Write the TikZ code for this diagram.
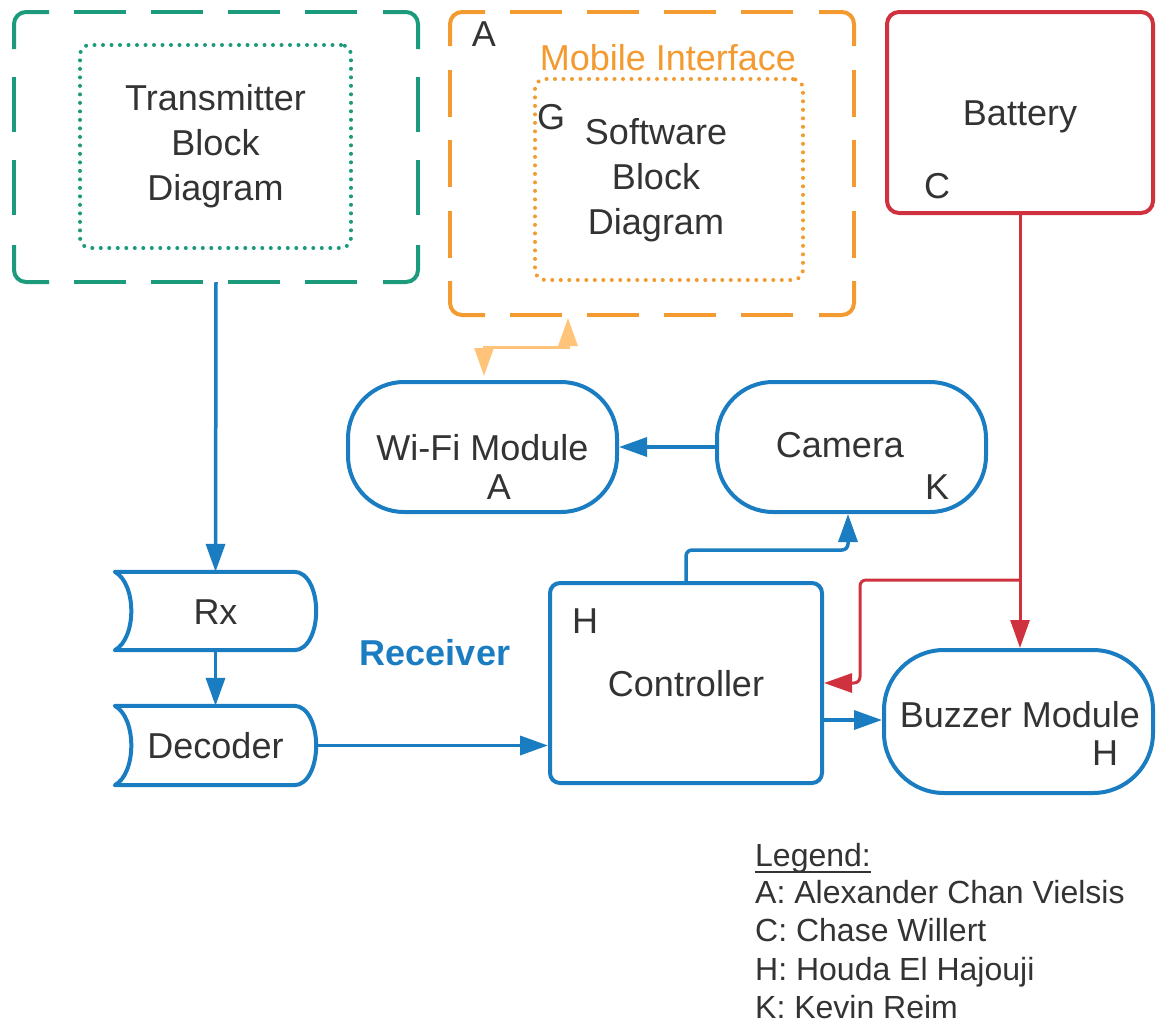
\documentclass[tikz,border=0pt]{standalone}
\usepackage{fontspec}
\setmainfont{Liberation Sans}
\usetikzlibrary{arrows.meta}
\usetikzlibrary{positioning}
\usetikzlibrary{calc}
\definecolor{rblue}{HTML}{1A7CC1}
\definecolor{tgreen}{HTML}{1C9A7C}
\definecolor{morange}{HTML}{F39A30}
\definecolor{lorange}{HTML}{FFC47A}
\definecolor{bred}{HTML}{CF323E}
\definecolor{ink}{HTML}{333333}
\tikzset{>={Triangle[length=28pt,width=19pt]}}
\tikzset{
  every node/.style={font=\fontsize{36}{45}\selectfont, text=ink, inner sep=0pt},
  word/.style={text height=26pt, text depth=0pt},
  legendline/.style={font=\fontsize{32}{39}\selectfont, anchor=base west, text depth=0pt},
  outerbox/.style={outer sep=0pt},
  innerbox/.style={draw, line width=4pt, line cap=round, dash pattern=on 0pt off 8.5pt, rounded corners=10pt, align=center},
  module/.style={draw=rblue, line width=4pt, rounded corners=56pt, word},
  blocknode/.style={draw=rblue, line width=4pt, rounded corners=10pt, word},
  link/.style={->, rblue, line width=3.5pt},
  feed/.style={->, bred, line width=3pt},
}
% node, colour, side corner piece, side dash, side gap
\newcommand{\dashframe}[5]{%
  \foreach \cn/\h/\v in {north west/1/-1,north east/-1/-1,south east/-1/1,south west/1/1}
    \draw[#2, line width=4pt, rounded corners=12pt] ([xshift=\h*35pt]#1.\cn) -- (#1.\cn) -- ([yshift=\v*#3]#1.\cn);
  \foreach \p/\q in {north west/north east,south west/south east}
    \draw[#2, line width=4pt, dash pattern=on 52pt off 25pt] ($(#1.\p)!60pt!(#1.\q)$) -- ($(#1.\q)!60pt!(#1.\p)$);
  \foreach \p/\q in {north west/south west,north east/south east}
    \draw[#2, line width=4pt, dash pattern=on #4 off #5] ($(#1.\p)!#3+#5!(#1.\q)$) -- ($(#1.\q)!#3+#5!(#1.\p)$);
}

\begin{document}
\begin{tikzpicture}[x=1pt,y=-1pt]
  \useasboundingbox (0,0) rectangle (1157,1026);

  % transmitter
  \node[outerbox, minimum width=404pt, minimum height=270pt] (tx) at (216,147) {};
  \dashframe{tx}{tgreen}{37pt}{55pt}{28pt}
  \node[innerbox, draw=tgreen, minimum width=271pt, minimum height=203pt] (txin) at (215.5,146.5)
    {Transmitter\\Block\\Diagram};

  % mobile interface
  \node[outerbox, minimum width=404pt, minimum height=303pt] (mob) at (652,163.5) {};
  \dashframe{mob}{morange}{34pt}{47pt}{23.5pt}
  \node[innerbox, draw=morange, minimum width=268pt, minimum height=201pt] (soft) at (669,179.5) {};
  \node[align=center] (softtxt) at (656,180) {Software\\Block\\Diagram};
  \node[word] (mobA) at (484,33) {A};
  \node[word, text=morange] (mobtitle) at (668,57) {Mobile Interface};
  \node[word] (softG) at (551,116) {G};

  % battery
  \node[draw=bred, line width=4pt, rounded corners=12pt, word, minimum width=266pt, minimum height=201pt] (bat) at (1020,112.5) {Battery};
  \node[word] (batC) at (937,185) {C};

  % modules
  \node[module, minimum width=269pt, minimum height=130pt] (wifi) at (482.5,447) {Wi-Fi Module};
  \node[word] (wifiA) at (499,486) {A};
  \node[module, minimum width=269pt, minimum height=130pt] (cam) at (851.5,447) {};
  \node[word] (camtxt) at (840,444) {Camera};
  \node[word] (camK) at (937,486) {K};
  \node[module, rounded corners=60pt, minimum width=269pt, minimum height=143pt] (buz) at (1018.5,721.5) {};
  \node[word] (buztxt) at (1020,714) {Buzzer Module};
  \node[word] (buzH) at (1105,752) {H};

  % receiver
  \node[word, minimum width=201pt, minimum height=78pt] (rx) at (215.5,611) {Rx};
  \node[word, minimum width=201pt, minimum height=79pt] (dec) at (215.5,745.5) {Decoder};
  \foreach \n in {rx,dec}
    \draw[rblue, line width=4pt, line join=round]
      (\n.north west) .. controls ([xshift=22pt,yshift=-12pt]\n.north west) and ([xshift=22pt,yshift=12pt]\n.south west) .. (\n.south west)
      -- ([xshift=-22pt]\n.south east) .. controls ([xshift=-8pt]\n.south east) and ([yshift=-20pt]\n.east) .. (\n.east)
      .. controls ([yshift=20pt]\n.east) and ([xshift=-8pt]\n.north east) .. ([xshift=-22pt]\n.north east) -- cycle;
  \node[word, font=\fontsize{36}{45}\selectfont\bfseries, text=rblue] (rcv) at (435,652) {Receiver};
  \node[blocknode, minimum width=272pt, minimum height=200pt] (ctl) at (686,683) {Controller};
  \node[word] (ctlH) at (585,620) {H};

  % connectors
  \draw[link] (tx.south) -- (rx.north);
  \draw[link] (rx.south) -- (dec.north);
  \draw[link] (dec.east) -- (dec.east -| ctl.west);
  \draw[link, rounded corners=6pt] (ctl.north) |- ([xshift=-3.5pt,yshift=-36pt]cam.south) -- ([xshift=-3.5pt]cam.south);
  \draw[link] (cam.west) -- (wifi.east);
  \draw[link] ([yshift=-37pt]ctl.east) -- ([yshift=-37pt]ctl.east -| buz.west);
  \draw[feed] (bat.south) -- (bat.south |- buz.north);
  \draw[feed, rounded corners=6pt] (bat.south |- 0,580) -| (860,683) -- (ctl.east);
  \draw[<->, lorange, line width=3pt] ([xshift=1.5pt,yshift=4pt]wifi.north) |- (568,347) -- ([yshift=-3pt]mob.south -| 568,0);

  % legend
  \node[legendline] (legtitle) at (755,866) {Legend:};
  \draw[ink, line width=2pt] ([yshift=-6pt]legtitle.base west) -- ([yshift=-6pt]legtitle.base east);
  \foreach \line [count=\i from 0] in {{A: Alexander Chan Vielsis},{C: Chase Willert},{H: Houda El Hajouji},{K: Kevin Reim}}
    \node[legendline] (leg\i) at (755,903+38.5*\i) {\line};
\end{tikzpicture}
\end{document}
